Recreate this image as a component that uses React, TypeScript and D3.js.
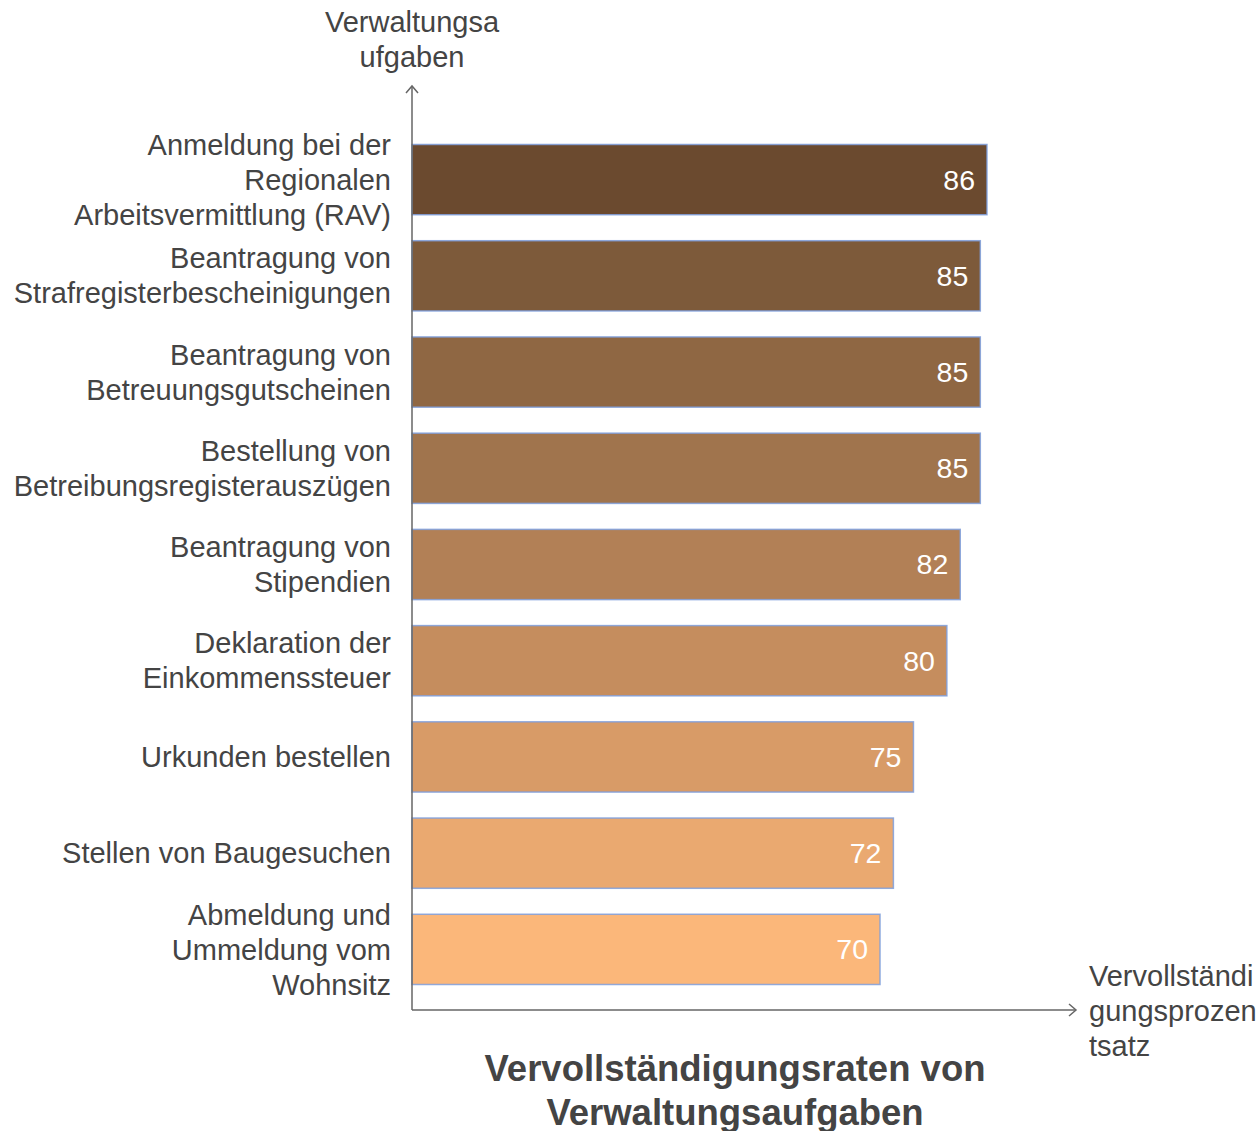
import React from "react";
import * as d3 from "d3";

const categories: string[][] = [
  ["Anmeldung bei der", "Regionalen", "Arbeitsvermittlung (RAV)"],
  ["Beantragung von", "Strafregisterbescheinigungen"],
  ["Beantragung von", "Betreuungsgutscheinen"],
  ["Bestellung von", "Betreibungsregisterauszügen"],
  ["Beantragung von", "Stipendien"],
  ["Deklaration der", "Einkommenssteuer"],
  ["Urkunden bestellen"],
  ["Stellen von Baugesuchen"],
  ["Abmeldung und", "Ummeldung vom", "Wohnsitz"],
];
const values: number[] = [86, 85, 85, 85, 82, 80, 75, 72, 70];
const colors: string[] = [
  "#6B4A2F", "#7D5A3A", "#8F6743", "#A0744D", "#B28056",
  "#C58D5E", "#D89B67", "#EAA970", "#FBB77A",
];
const titleLines = ["Vervollständigungsraten von", "Verwaltungsaufgaben"];
const yTitle = ["Verwaltungsa", "ufgaben"];
const xTitle = ["Vervollständi", "gungsprozen", "tsatz"];

export default function App() {
  const W = 1260, H = 1131;
  const x0 = 412;
  const x = d3.scaleLinear().domain([0, 100]).range([x0, x0 + 668.6]);
  const ids = categories.map((_, i) => String(i));
  const y = d3.scaleBand().domain(ids).range([131.5, 997.5]).paddingInner(0.27).paddingOuter(0.135);
  const font = "'Liberation Sans', Arial, sans-serif";
  const axisY = 1010;
  const lh = 35;
  const fs = 29;
  return (
    <svg width={W} height={H} style={{ position: "absolute", left: 0, top: 0, background: "#fff" }} fontFamily={font}>
      {values.map((v, i) => {
        const yy = y(ids[i])!;
        const bw = y.bandwidth();
        return (
          <g key={i}>
            <rect x={x(0)} y={yy} width={x(v) - x(0)} height={bw} fill={colors[i]} stroke="#7f9fdc" strokeOpacity={0.85} strokeWidth={1.5} />
            <text x={x(v) - 12} y={yy + bw / 2} dy="0.35em" textAnchor="end" fill="#fff" fontSize={28.5}>{v}</text>
            {categories[i].map((ln, j) => (
              <text key={j} x={391} y={yy + bw / 2 + (j - (categories[i].length - 1) / 2) * lh} dy="0.35em" textAnchor="end" fill="#444" fontSize={fs}>{ln}</text>
            ))}
          </g>
        );
      })}
      <line x1={x0} y1={axisY} x2={x0} y2={86} stroke="#666" strokeWidth={1.5} />
      <path d={`M${x0 - 6},${93} L${x0},${86} L${x0 + 6},${93}`} fill="none" stroke="#666" strokeWidth={1.5} />
      <line x1={x0} y1={axisY} x2={1076} y2={axisY} stroke="#666" strokeWidth={1.5} />
      <path d={`M${1069},${axisY - 6} L${1076},${axisY} L${1069},${axisY + 6}`} fill="none" stroke="#666" strokeWidth={1.5} />
      {yTitle.map((t, i) => (
        <text key={i} x={x0} y={22 + i * lh} dy="0.35em" textAnchor="middle" fill="#444" fontSize={fs}>{t}</text>
      ))}
      {xTitle.map((t, i) => (
        <text key={i} x={1089} y={976 + i * lh} dy="0.35em" textAnchor="start" fill="#444" fontSize={fs}>{t}</text>
      ))}
      {titleLines.map((t, i) => (
        <text key={i} x={735} y={1068 + i * 44} dy="0.35em" textAnchor="middle" fill="#444" fontSize={36.5} fontWeight="bold">{t}</text>
      ))}
    </svg>
  );
}
